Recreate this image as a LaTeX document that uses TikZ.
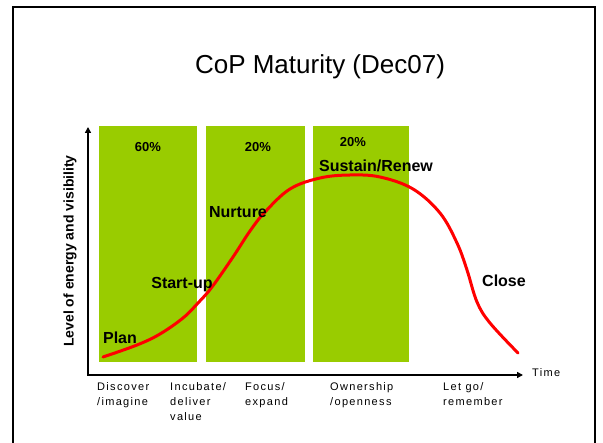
\documentclass[tikz,border=0pt]{standalone}
\usepackage{fontspec}
\setmainfont{Liberation Sans}
\newfontfamily\smallfont[LetterSpace=12]{Liberation Sans}
\usetikzlibrary{arrows.meta}
\definecolor{phasegreen}{RGB}{153,204,0}
\definecolor{curvered}{RGB}{255,0,0}
\tikzset{
  phasebox/.style={fill=phasegreen, draw=none},
  stagelabel/.style={font=\fontsize{16}{18}\selectfont\bfseries, inner sep=0pt, anchor=base},
  pctlabel/.style={font=\fontsize{13}{15}\selectfont\bfseries, inner sep=0pt, anchor=base},
  bottomlabel/.style={font=\fontsize{11}{15}\smallfont, inner sep=0pt, anchor=north west, align=left},
  axisline/.style={line width=2pt, -{Triangle[length=6pt,width=6pt]}},
}
\begin{document}
\begin{tikzpicture}[x=1pt,y=-1pt]
\useasboundingbox (0,0) rectangle (603,443);
\fill[white] (0,0) rectangle (603,443);
% frame
\draw[line width=2pt] (13,445) -- (13,7) -- (595,7) -- (595,445);
% title
\node[font=\fontsize{26}{30}\selectfont, inner sep=0pt, anchor=base] (title) at (320,74) {CoP Maturity (Dec07)};
% phase boxes
\fill[phasebox] (99,126) rectangle (197,362);
\fill[phasebox] (206,126) rectangle (305,362);
\fill[phasebox] (313,126) rectangle (409,362);
% axes
\coordinate (origin) at (88,375);
\coordinate (ytip) at (88,127);
\coordinate (xtip) at (523,375);
\draw[axisline] (origin) -- (ytip);
\draw[axisline] ([xshift=-1pt]origin) -- (xtip);
\node[font=\fontsize{11}{13}\smallfont, anchor=west, inner sep=0pt] (time) at (532,373) {Time};
\node[font=\fontsize{14}{16}\selectfont\bfseries, rotate=90, inner sep=0pt] (ylabel) at (70,251) {Level of energy and visibility};
% percentages
\node[pctlabel] (p1) at (148,152) {60\%};
\node[pctlabel] (p2) at (258,152) {20\%};
\node[pctlabel] (p3) at (353,147) {20\%};
% curve
\draw[curvered, line width=3pt, line cap=round, line join=round] plot[smooth, tension=0.6] coordinates {
 (103,357) (137,345) (160,334) (183,318) (198,303) (212,287) (233,257) (250,231)
 (265,212) (290,189) (320,178) (350,175) (380,177) (413,189) (440,213) (457,243)
 (467,270) (477,302) (490,323) (518,353)};
% stage labels
\node[stagelabel] (plan) at (120,344) {Plan};
\node[stagelabel] (startup) at (182,289) {Start-up};
\node[stagelabel] (nurture) at (238,218) {Nurture};
\node[stagelabel] (sustain) at (376,172) {Sustain/Renew};
\node[stagelabel] (close) at (504,287) {Close};
% bottom labels
\node[bottomlabel] (b1) at (97,382) {Discover\\/imagine};
\node[bottomlabel] (b2) at (170,382) {Incubate/\\deliver\\value};
\node[bottomlabel] (b3) at (245,382) {Focus/\\expand};
\node[bottomlabel] (b4) at (330,382) {Ownership\\/openness};
\node[bottomlabel] (b5) at (443,382) {Let go/\\remember};
\end{tikzpicture}
\end{document}
